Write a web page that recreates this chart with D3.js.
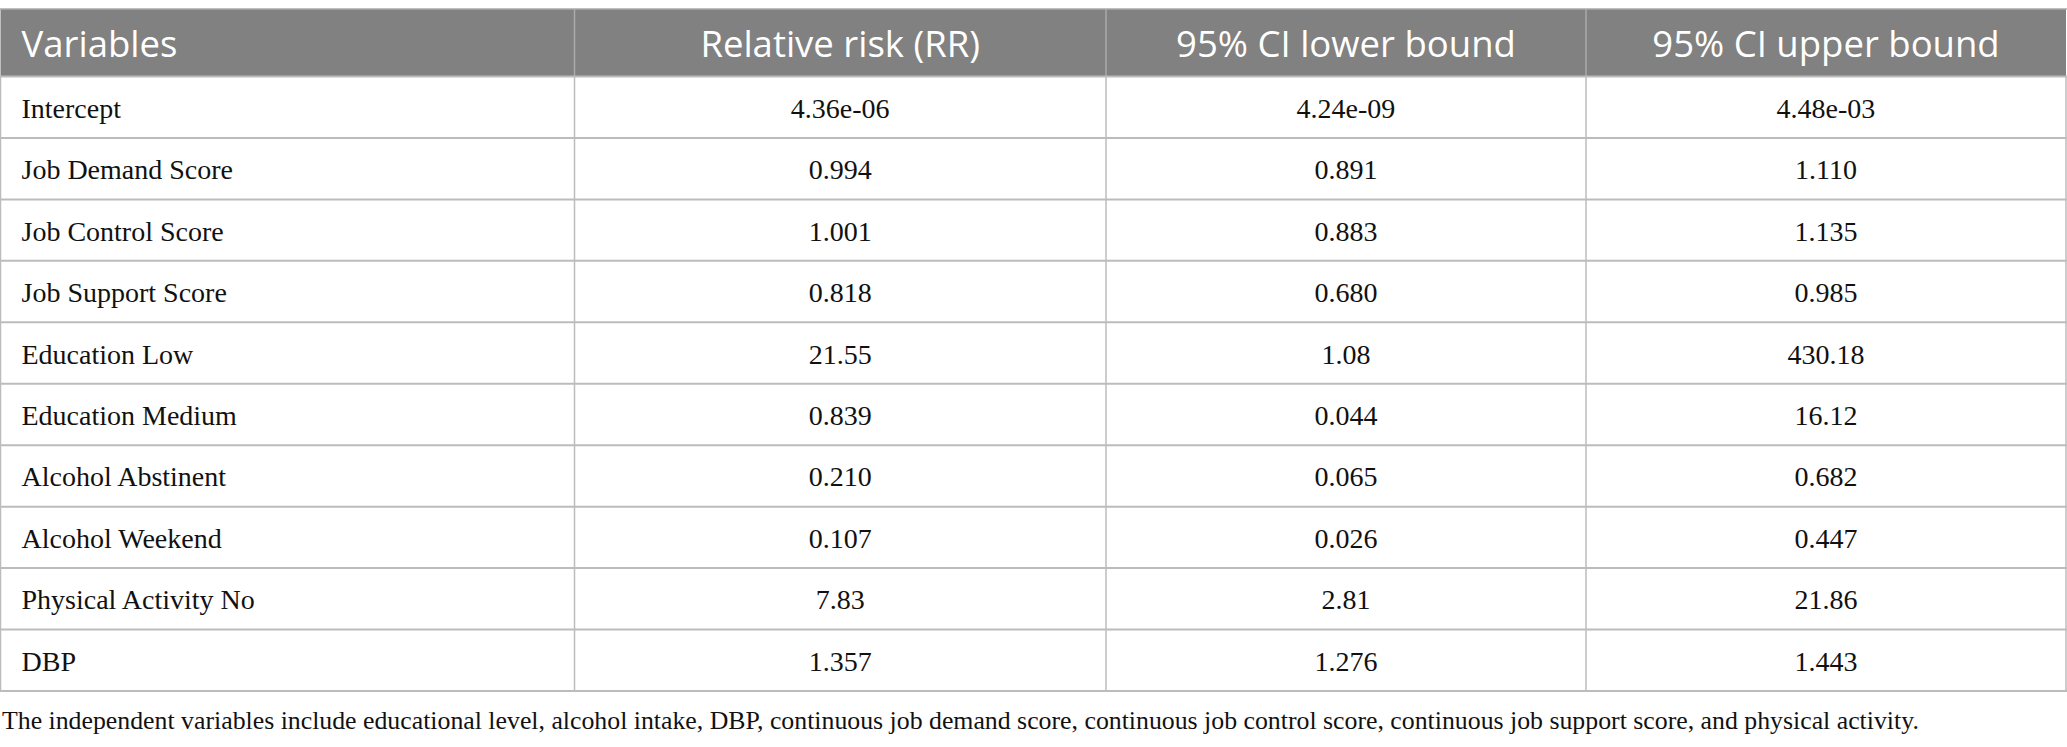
<!DOCTYPE html>
<html><head><meta charset="utf-8">
<script src="https://cdn.jsdelivr.net/npm/d3@7"></script>
<style>html,body{margin:0;padding:0;background:#fff;}</style>
</head><body>
<script>
const headers = ["Variables", "Relative risk (RR)", "95% CI lower bound", "95% CI upper bound"];
const variables = ["Intercept","Job Demand Score","Job Control Score","Job Support Score","Education Low","Education Medium","Alcohol Abstinent","Alcohol Weekend","Physical Activity No","DBP"];
const rr = ["4.36e-06","0.994","1.001","0.818","21.55","0.839","0.210","0.107","7.83","1.357"];
const ciLower = ["4.24e-09","0.891","0.883","0.680","1.08","0.044","0.065","0.026","2.81","1.276"];
const ciUpper = ["4.48e-03","1.110","1.135","0.985","430.18","16.12","0.682","0.447","21.86","1.443"];
const footnote = "The independent variables include educational level, alcohol intake, DBP, continuous job demand score, continuous job control score, continuous job support score, and physical activity.";

const W = 2067, H = 747;
const colEdges = [0.5, 574.5, 1106, 1586, 2066];
const headTop = 9, headBot = 76.5, tableBot = 691;

const svg = d3.select("body").append("svg").attr("width", W).attr("height", H);

const y = d3.scaleLinear().domain([0, variables.length]).range([headBot, tableBot]);
const rows = variables.map((v, i) => [v, rr[i], ciLower[i], ciUpper[i]]);

// header background
svg.append("rect").attr("x", colEdges[0]).attr("y", headTop).attr("width", colEdges[4]-colEdges[0]).attr("height", headBot-headTop).attr("fill", "#808180");

// header texts
headers.forEach((h, j) => {
  const t = svg.append("text")
    .attr("y", 57)
    .attr("fill", "#fff")
    .style("font-family", "'Open Sans', sans-serif")
    .style("font-size", "36.5px")
    .text(h);
  if (j === 0) t.attr("x", 21.5);
  else t.attr("x", (colEdges[j] + colEdges[j+1]) / 2).attr("text-anchor", "middle");
});

// header column separators
for (let j = 1; j < 4; j++) {
  svg.append("line").attr("x1", colEdges[j]).attr("x2", colEdges[j]).attr("y1", headTop).attr("y2", headBot)
    .attr("stroke", "#a9aaa9").attr("stroke-width", 1.5);
}
// header top line
svg.append("line").attr("x1", 0).attr("x2", colEdges[4]+1).attr("y1", headTop).attr("y2", headTop).attr("stroke", "#a9aaa9").attr("stroke-width", 1.5);

// body grid
const lineColor = "#bcbcbc";
d3.range(0, variables.length + 1).forEach(i => {
  svg.append("line").attr("x1", 0).attr("x2", colEdges[4]+1).attr("y1", y(i)).attr("y2", y(i))
    .attr("stroke", lineColor).attr("stroke-width", 2);
});
colEdges.forEach(x => {
  svg.append("line").attr("x1", x).attr("x2", x).attr("y1", headBot).attr("y2", tableBot)
    .attr("stroke", lineColor).attr("stroke-width", 1.5);
});

// body texts
rows.forEach((r, i) => {
  const cy = (y(i) + y(i+1)) / 2;
  r.forEach((val, j) => {
    const t = svg.append("text")
      .attr("y", cy + 10.5)
      .attr("fill", "#111")
      .style("font-family", "'Liberation Serif', serif")
      .style("font-size", "28px")
      .text(val);
    if (j === 0) t.attr("x", 21.5);
    else t.attr("x", (colEdges[j] + colEdges[j+1]) / 2).attr("text-anchor", "middle");
  });
});

// footnote
svg.append("text").attr("x", 2).attr("y", 729)
  .attr("fill", "#111")
  .style("font-family", "'Liberation Serif', serif")
  .style("font-size", "25.8px")
  .text(footnote);
</script>
</body></html>
